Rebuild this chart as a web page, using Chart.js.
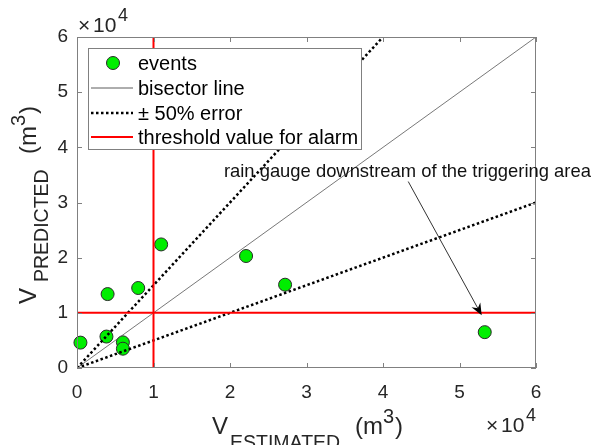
<!DOCTYPE html>
<html lang="en">
<head>
  <meta charset="UTF-8">
  <title>V predicted vs V estimated</title>
  <script src="https://cdn.jsdelivr.net/npm/chart.js@4.4.0/dist/chart.umd.min.js"></script>
  <style>
    html, body { margin: 0; padding: 0; background: #fff; }
    #wrap { width: 591px; height: 445px; }
  </style>
</head>
<body>
<div id="wrap"><canvas id="chart" width="591" height="445"></canvas></div>

<script>
  // events, volumes in m3
  const estimated = [450, 4000, 3850, 6000, 6000, 8000, 11000, 22100, 27200, 53300];
  const predicted = [4600, 13400, 5700, 4650, 3500, 14500, 22400, 20300, 15100, 6500];

  // reference lines (end points)
  const bisectorX = [0, 60000],  bisectorY = [0, 60000];
  const plus50X   = [0, 40000],  plus50Y   = [0, 60000];
  const minus50X  = [0, 60000],  minus50Y  = [0, 30000];
  const alarmVX   = [10000, 10000], alarmVY = [0, 60000];
  const alarmHX   = [0, 60000],  alarmHY   = [10000, 10000];

  // axis ticks (x 10^4)
  const tickVals = [0, 10000, 20000, 30000, 40000, 50000, 60000];

  // annotation
  const noteText = 'rain gauge downstream of the triggering area';
  const notePos  = [19200, 34600];
  const arrowFrom = [43300, 33800];
  const arrowTo   = [52900, 9550];

  const legendItems = ['events', 'bisector line', '\u00B1 50% error', 'threshold value for alarm'];

  const FONT = "'Liberation Sans', Arial, Helvetica, sans-serif";
  const TXT = '#262626';

  const pts = (xs, ys) => xs.map((x, i) => ({ x, y: ys[i] }));

  const lineDs = (label, xs, ys, color, width, dash, order) => ({
    type: 'line', label, data: pts(xs, ys),
    borderColor: color, borderWidth: width, borderDash: dash || [],
    pointRadius: 0, fill: false, tension: 0, order
  });

  const decorations = {
    id: 'decorations',
    afterDraw(chart) {
      const ctx = chart.ctx, a = chart.chartArea;
      const xs = chart.scales.x, ys = chart.scales.y;
      ctx.save();

      // axes box + inner ticks
      ctx.strokeStyle = '#808080';
      ctx.lineWidth = 1;
      ctx.strokeRect(a.left + 0.5, a.top + 0.5, a.right - a.left - 1, a.bottom - a.top - 1);
      ctx.beginPath();
      tickVals.forEach(v => {
        const px = Math.round(xs.getPixelForValue(v)) + 0.5;
        ctx.moveTo(px, a.bottom); ctx.lineTo(px, a.bottom - 5);
        ctx.moveTo(px, a.top); ctx.lineTo(px, a.top + 5);
        const py = Math.round(ys.getPixelForValue(v)) + 0.5;
        ctx.moveTo(a.left, py); ctx.lineTo(a.left + 5, py);
        ctx.moveTo(a.right, py); ctx.lineTo(a.right - 5, py);
      });
      ctx.stroke();

      // annotation arrow
      const x0 = xs.getPixelForValue(arrowFrom[0]), y0 = ys.getPixelForValue(arrowFrom[1]);
      const x1 = xs.getPixelForValue(arrowTo[0]),   y1 = ys.getPixelForValue(arrowTo[1]);
      const c = Math.cos(Math.atan2(y1 - y0, x1 - x0)), s = Math.sin(Math.atan2(y1 - y0, x1 - x0));
      ctx.strokeStyle = '#333';
      ctx.lineWidth = 1;
      ctx.beginPath();
      ctx.moveTo(x0, y0);
      ctx.lineTo(x1 - 6 * c, y1 - 6 * s);
      ctx.stroke();
      ctx.fillStyle = '#000';
      ctx.beginPath();
      ctx.moveTo(x1, y1);
      ctx.lineTo(x1 - 12 * c + 5 * s, y1 - 12 * s - 5 * c);
      ctx.lineTo(x1 - 8 * c, y1 - 8 * s);
      ctx.lineTo(x1 - 12 * c - 5 * s, y1 - 12 * s + 5 * c);
      ctx.closePath();
      ctx.fill();

      ctx.fillStyle = '#111';
      ctx.font = '18.4px ' + FONT;
      ctx.textBaseline = 'alphabetic';
      ctx.textAlign = 'left';
      ctx.fillText(noteText, xs.getPixelForValue(notePos[0]), ys.getPixelForValue(notePos[1]));

      // legend
      const L = a.left + 11, T = a.top + 11, W = 273, H = 101;
      ctx.fillStyle = '#fff';
      ctx.fillRect(L, T, W, H);
      ctx.strokeStyle = '#808080';
      ctx.lineWidth = 1;
      ctx.strokeRect(L + 0.5, T + 0.5, W, H);
      const rows = [T + 15, T + 40, T + 65, T + 89];
      const sx0 = L + 3, sx1 = L + 45, tx = L + 50;
      ctx.beginPath();
      ctx.arc((sx0 + sx1) / 2 + 1, rows[0], 6.5, 0, Math.PI * 2);
      ctx.fillStyle = '#00ee00'; ctx.fill();
      ctx.strokeStyle = '#2a2a2a'; ctx.stroke();
      ctx.beginPath(); ctx.moveTo(sx0, rows[1]); ctx.lineTo(sx1, rows[1]);
      ctx.strokeStyle = '#333'; ctx.lineWidth = 0.8; ctx.stroke();
      ctx.beginPath(); ctx.moveTo(sx0, rows[2]); ctx.lineTo(sx1, rows[2]);
      ctx.setLineDash([2.5, 2.5]); ctx.strokeStyle = '#000'; ctx.lineWidth = 2.5; ctx.stroke();
      ctx.setLineDash([]);
      ctx.beginPath(); ctx.moveTo(sx0, rows[3]); ctx.lineTo(sx1, rows[3]);
      ctx.strokeStyle = '#ff0000'; ctx.lineWidth = 2; ctx.stroke();
      ctx.fillStyle = '#000';
      ctx.font = '20px ' + FONT;
      ctx.textBaseline = 'middle';
      legendItems.forEach((t, i) => ctx.fillText(t, tx, rows[i] + 1));

      // axis titles
      ctx.fillStyle = TXT;
      ctx.textBaseline = 'alphabetic';
      ctx.font = '24px ' + FONT; ctx.fillText('V', 212, 434);
      ctx.font = '19.5px ' + FONT; ctx.fillText('ESTIMATED', 230, 449);
      ctx.font = '24px ' + FONT; ctx.fillText('(m', 355, 434);
      ctx.font = '20px ' + FONT; ctx.fillText('3', 383, 423);
      ctx.font = '24px ' + FONT; ctx.fillText(')', 395, 434);

      ctx.save();
      ctx.translate(36, 304);
      ctx.rotate(-Math.PI / 2);
      ctx.font = '24px ' + FONT; ctx.fillText('V', 0, 0);
      ctx.font = '19.5px ' + FONT; ctx.fillText('PREDICTED', 22, 12);
      ctx.font = '24px ' + FONT; ctx.fillText('(m', 150, 0);
      ctx.font = '20px ' + FONT; ctx.fillText('3', 178, -11);
      ctx.font = '24px ' + FONT; ctx.fillText(')', 190, 0);
      ctx.restore();

      // exponent labels
      const expo = (x, y) => {
        ctx.font = '21px ' + FONT; ctx.fillText('\u00D7', x, y);
        ctx.fillText('10', x + 15, y);
        ctx.font = '18px ' + FONT; ctx.fillText('4', x + 40, y - 11);
      };
      expo(78, 32);
      expo(486, 432);

      ctx.restore();
    }
  };

  new Chart(document.getElementById('chart'), {
    type: 'scatter',
    data: {
      datasets: [
        lineDs('threshold value for alarm', alarmVX, alarmVY, '#ff0000', 2, null, 1),
        lineDs('threshold h', alarmHX, alarmHY, '#ff0000', 2, null, 1),
        lineDs('\u00B1 50% error', plus50X, plus50Y, '#000', 2.5, [2.5, 2.5], 2),
        lineDs('- 50% error', minus50X, minus50Y, '#000', 2.5, [2.5, 2.5], 2),
        lineDs('bisector line', bisectorX, bisectorY, '#555', 0.8, null, 3),
        {
          label: 'events', data: pts(estimated, predicted), order: 5, clip: false,
          backgroundColor: '#00ee00', borderColor: '#2a2a2a', borderWidth: 1,
          pointRadius: 6.5, pointHoverRadius: 6.5
        }
      ]
    },
    options: {
      responsive: false,
      animation: false,
      events: [],
      layout: { padding: { top: 37, right: 55, left: 0, bottom: 0 } },
      plugins: { legend: { display: false }, tooltip: { enabled: false } },
      scales: {
        x: {
          type: 'linear', min: 0, max: 60000,
          afterFit: s => { s.height = 77; },
          afterBuildTicks: s => { s.ticks = tickVals.map(v => ({ value: v })); },
          ticks: { callback: v => v / 10000, color: TXT, font: { size: 19, family: FONT }, padding: 13, maxRotation: 0 },
          grid: { display: false, drawTicks: false },
          border: { display: false }
        },
        y: {
          type: 'linear', min: 0, max: 60000,
          afterFit: s => { s.width = 77; },
          afterBuildTicks: s => { s.ticks = tickVals.map(v => ({ value: v })); },
          ticks: { callback: v => v / 10000, color: TXT, font: { size: 19, family: FONT }, padding: 9 },
          grid: { display: false, drawTicks: false },
          border: { display: false }
        }
      }
    },
    plugins: [decorations]
  });
</script>
</body>
</html>
